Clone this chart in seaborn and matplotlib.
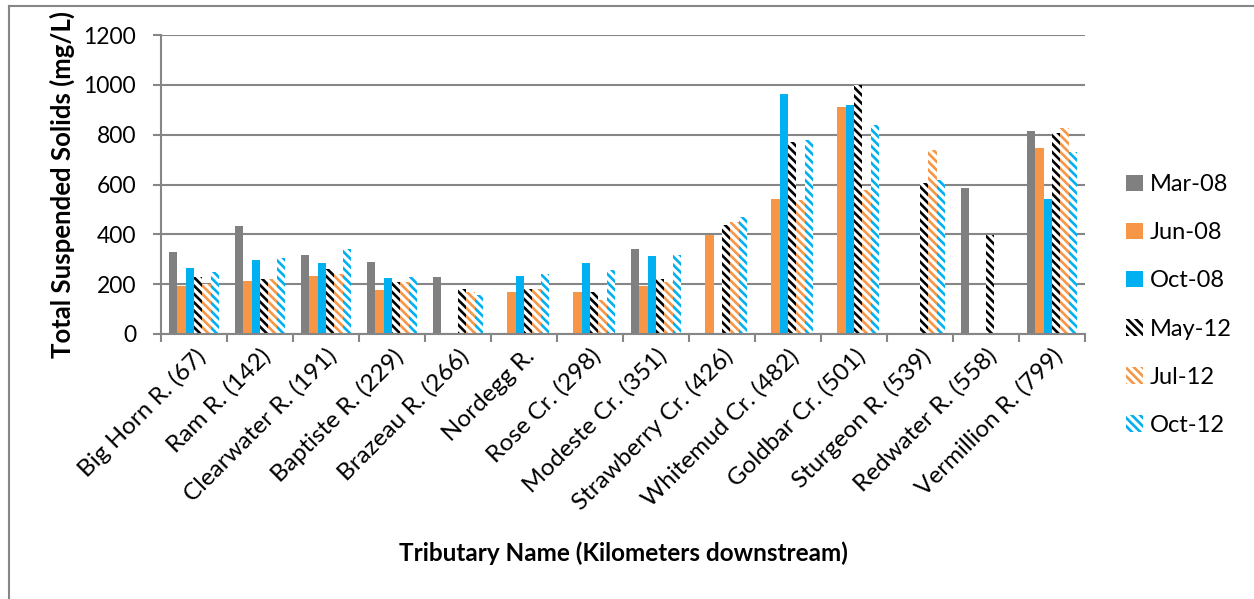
import numpy as np
import pandas as pd
import matplotlib
matplotlib.use("Agg")
import matplotlib.pyplot as plt
import matplotlib.patches as mpatches
import matplotlib.lines as mlines
import seaborn as sns

sites = ["Big Horn R. (67)", "Ram R. (142)", "Clearwater R. (191)", "Baptiste R. (229)",
         "Brazeau R. (266)", "Nordegg R.", "Rose Cr. (298)", "Modeste Cr. (351)",
         "Strawberry Cr. (426)", "Whitemud Cr. (482)", "Goldbar Cr. (501)",
         "Sturgeon R. (539)", "Redwater R. (558)", "Vermillion R. (799)"]
dates = ["Mar-08", "Jun-08", "Oct-08", "May-12", "Jul-12", "Oct-12"]
nan = np.nan
mar08 = [329, 434, 319, 289, 228, nan, nan, 342, nan, nan, nan, nan, 586, 814]
jun08 = [193, 212, 231, 176, nan, 170, 169, 191, 398, 542, 913, nan, nan, 747]
oct08 = [263, 298, 283, 225, nan, 231, 283, 314, nan, 962, 918, nan, nan, 542]
may12 = [228, 219, 259, 208, 180, 180, 169, 219, 438, 769, 999, 607, 399, 808]
jul12 = [201, 219, 239, 207, 168, 180, 137, 207, 448, 539, 579, 737, nan, 828]
oct12 = [248, 307, 340, 228, 158, 239, 258, 319, 468, 777, 838, 619, nan, 729]

colors = ["#808080", "#F79646", "#00B0F0", "#000000", "#F79646", "#00B0F0"]
hatched = [False, False, False, True, True, True]
stripe = "\\\\\\\\"

rows = []
for d, vals in zip(dates, [mar08, jun08, oct08, may12, jul12, oct12]):
    for s, v in zip(sites, vals):
        rows.append({"site": s, "date": d, "tss": v})
df = pd.DataFrame(rows).dropna()

plt.rcParams["font.family"] = ["Lato", "DejaVu Sans"]
plt.rcParams["hatch.linewidth"] = 1.9

fig = plt.figure(figsize=(12.54, 5.99), dpi=100)
ax = fig.add_axes([161 / 1254, 1 - 334 / 599, 924 / 1254, 299 / 599])

sns.barplot(data=df, x="site", y="tss", hue="date", order=sites, hue_order=dates,
            palette=colors, saturation=1, errorbar=None, width=0.76, legend=False, ax=ax)

for cont, c, h in zip(ax.containers, colors, hatched):
    for p in cont.patches:
        p.set_linewidth(0)
        if h:
            p.set_facecolor("white")
            p.set_edgecolor(c)
            p.set_hatch(stripe)

ax.set_ylim(0, 1200)
ax.set_yticks(range(0, 1201, 200))
ax.set_xlim(-0.5, len(sites) - 0.5)
ax.grid(axis="y", color="#868686", linewidth=1.5)
ax.set_axisbelow(True)
for s in ["top", "right"]:
    ax.spines[s].set_visible(False)
for s in ["left", "bottom"]:
    ax.spines[s].set_color("#868686")
    ax.spines[s].set_linewidth(1.5)

ax.tick_params(axis="y", length=6, width=1.5, color="#868686", pad=12, labelsize=16.5)
ax.set_xticks(np.arange(-0.5, len(sites)), minor=True)
ax.tick_params(axis="x", which="minor", length=6, width=1.5, color="#868686")
ax.tick_params(axis="x", which="major", length=0, pad=8, labelsize=17.5)
ax.set_xticks(range(len(sites)))
ax.set_xticklabels(sites, rotation=45, ha="right", rotation_mode="anchor")

ax.set_ylabel("Total Suspended Solids (mg/L)", fontsize=18.5, fontweight="bold", va="center")
ax.yaxis.set_label_coords(-0.107, 0.5)
ax.set_xlabel("Tributary Name (Kilometers downstream)", fontsize=17.5, fontweight="bold", va="center")
ax.xaxis.set_label_coords(0.5, -0.732)

handles = []
for c, h in zip(colors, hatched):
    if h:
        handles.append(mpatches.Patch(facecolor="white", edgecolor=c, hatch=stripe, linewidth=0))
    else:
        handles.append(mpatches.Patch(facecolor=c, linewidth=0))
fig.legend(handles, dates, loc="center left", bbox_to_anchor=(1126 / 1254, 1 - 305 / 599),
           frameon=False, fontsize=17, handlelength=0.7, handleheight=0.7,
           handletextpad=0.3, labelspacing=1.15, borderpad=0, borderaxespad=0)

# chart border
fig.add_artist(mlines.Line2D([8.5 / 1254, 1], [1 - 5.5 / 599, 1 - 5.5 / 599],
                             transform=fig.transFigure, color="#868686", linewidth=1.5))
fig.add_artist(mlines.Line2D([8.5 / 1254, 8.5 / 1254], [0, 1 - 5.5 / 599],
                             transform=fig.transFigure, color="#868686", linewidth=1.5))

fig.savefig("out.png", dpi=100)
